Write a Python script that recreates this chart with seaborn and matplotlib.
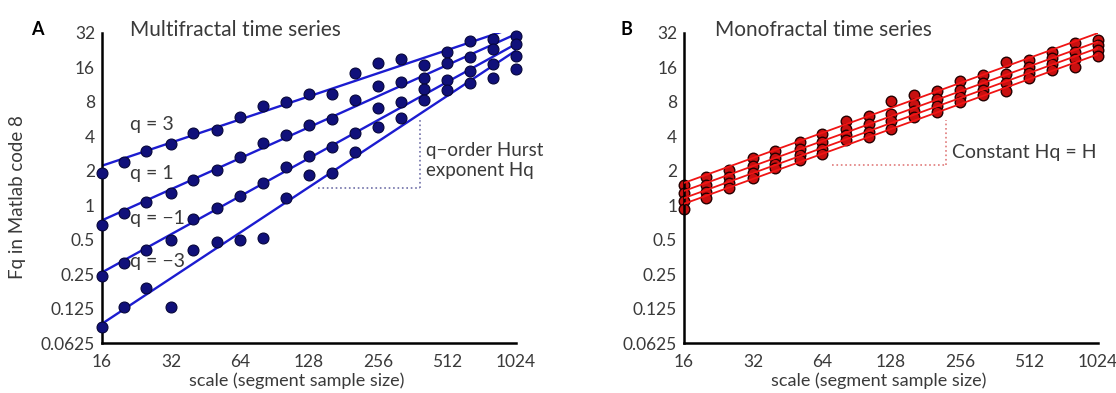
import numpy as np
import pandas as pd
import matplotlib
matplotlib.use("Agg")
import matplotlib.pyplot as plt
import seaborn as sns

# scales used in the MFDFA (segment sample sizes)
scales = [16, 20, 25, 32, 40, 51, 64, 81, 102, 128, 161, 203, 256, 323, 406, 512, 645, 813, 1024]
q_orders = [3, 1, -1, -3]

# Fq (multifractal)
multi_q3 = [1.9, 2.4, 3.0, 3.45, 4.3, 4.55, 5.9, 7.3, 8.0, 9.4, 9.3, 14.4, 17.6, 19.1, 16.9, 22.0, 27.0, 28.5, 30.0]
multi_q1 = [0.67, 0.86, 1.07, 1.29, 1.67, 2.04, 2.65, 3.5, 4.13, 5.05, 5.7, 8.35, 10.9, 12.0, 13.0, 17.6, 19.9, 23.0, 25.5]
multi_qm1 = [0.24, 0.31, 0.41, 0.50, 0.75, 0.95, 1.21, 1.57, 2.17, 2.7, 3.2, 4.3, 7.0, 8.0, 10.4, 12.5, 14.8, 17.3, 20.0]
multi_qm3 = [0.087, 0.13, 0.19, 0.13, 0.41, 0.48, 0.50, 0.52, 1.16, 1.84, 1.92, 2.93, 4.86, 5.8, 8.35, 10.2, 11.8, 13.0, 15.5]

# Fq (monofractal)
mono_q3 = [1.5, 1.75, 2.05, 2.6, 3.0, 3.55, 4.2, 5.4, 6.0, 8.2, 9.2, 10.0, 12.2, 13.8, 18.0, 18.6, 22.0, 26.0, 28.0]
mono_q1 = [1.28, 1.5, 1.78, 2.2, 2.6, 3.1, 3.6, 4.6, 5.1, 6.3, 7.6, 8.4, 10.2, 11.6, 14.0, 16.2, 19.2, 22.0, 25.0]
mono_qm1 = [1.08, 1.3, 1.56, 1.92, 2.3, 2.75, 3.1, 4.1, 4.4, 5.4, 6.6, 7.3, 8.9, 10.2, 11.8, 14.4, 17.0, 19.0, 22.5]
mono_qm3 = [0.92, 1.15, 1.4, 1.72, 2.1, 2.5, 2.78, 3.7, 3.95, 4.6, 5.9, 6.5, 7.9, 9.1, 10.0, 13.0, 15.3, 16.0, 20.2]

x_ticks = [16, 32, 64, 128, 256, 512, 1024]
x_ticklabels = ["16", "32", "64", "128", "256", "512", "1024"]
y_ticks = [0.0625, 0.125, 0.25, 0.5, 1, 2, 4, 8, 16, 32]
y_ticklabels = ["0.0625", "0.125", "0.25", "0.5", "1", "2", "4", "8", "16", "32"]


def to_long(series):
    rows = []
    for q, fq in zip(q_orders, series):
        for s, f in zip(scales, fq):
            rows.append({"scale": s, "Fq": f, "q": q})
    return pd.DataFrame(rows)


def fit_lines(df):
    rows = []
    for q, g in df.groupby("q"):
        coef = np.polyfit(np.log2(g["scale"]), np.log2(g["Fq"]), 1)
        for s in [scales[0], scales[-1]]:
            rows.append({"scale": s, "Fq": 2 ** np.polyval(coef, np.log2(s)), "q": q})
    return pd.DataFrame(rows)


df_multi = to_long([multi_q3, multi_q1, multi_qm1, multi_qm3])
df_mono = to_long([mono_q3, mono_q1, mono_qm1, mono_qm3])

sns.set_theme(style="white")
plt.rcParams["font.family"] = ["Lato", "DejaVu Sans"]
txt = "#3a3a3a"

fig = plt.figure(figsize=(11.16, 3.93), dpi=100)
axA = fig.add_axes([0.0914, 0.1272, 0.371, 0.789])
axB = fig.add_axes([0.613, 0.1272, 0.371, 0.789])

# panel A: dots over lines
sns.lineplot(data=fit_lines(df_multi), x="scale", y="Fq", units="q", estimator=None,
             color="#1c1cd0", lw=1.7, ax=axA, zorder=2)
sns.scatterplot(data=df_multi, x="scale", y="Fq", color="#10107a", edgecolor="#06063a",
                s=62, linewidth=0.8, ax=axA, zorder=3, clip_on=False, legend=False)

# panel B: lines over dots
sns.scatterplot(data=df_mono, x="scale", y="Fq", color="#c81010", edgecolor="#250000",
                s=58, linewidth=1.0, ax=axB, zorder=2, clip_on=False, legend=False)
sns.lineplot(data=fit_lines(df_mono), x="scale", y="Fq", units="q", estimator=None,
             color="#f01414", lw=1.3, ax=axB, zorder=3)

for ax in (axA, axB):
    ax.set_xscale("log", base=2)
    ax.set_yscale("log", base=2)
    ax.set_xlim(16, 1024)
    ax.set_ylim(0.0625, 32)
    ax.minorticks_off()
    ax.set_xticks(x_ticks)
    ax.set_xticklabels(x_ticklabels)
    ax.set_yticks(y_ticks)
    ax.set_yticklabels(y_ticklabels)
    ax.tick_params(direction="in", length=3, width=1.5, labelsize=12.5, colors="black",
                   labelcolor=txt)
    ax.tick_params(axis="x", pad=8)
    ax.tick_params(axis="y", pad=5)
    for side in ("top", "right"):
        ax.spines[side].set_visible(False)
    for side in ("left", "bottom"):
        ax.spines[side].set_linewidth(1.8)
        ax.spines[side].set_color("black")
    ax.set_xlabel("scale (segment sample size)", fontsize=13, color=txt)
    ax.xaxis.set_label_coords(0.47, -0.094)
    ax.set_ylabel("")

axA.set_ylabel("Fq in Matlab code 8", fontsize=13.5, color=txt)
axA.yaxis.set_label_coords(-0.184, 0.47)

axA.text(0.068, 1.01, "Multifractal time series", transform=axA.transAxes,
         fontsize=15, color=txt, ha="left", va="center")
axB.text(0.075, 1.01, "Monofractal time series", transform=axB.transAxes,
         fontsize=15, color=txt, ha="left", va="center")
fig.text(0.028, 0.924, "A", fontsize=13, weight="bold", color="black", va="center")
fig.text(0.556, 0.924, "B", fontsize=13, weight="bold", color="black", va="center")

# q labels in panel A
for label, yv in zip(["q = 3", "q = 1", "q = \u22121", "q = \u22123"], [5.06, 1.88, 0.76, 0.32]):
    axA.text(21.2, yv, label, fontsize=14, color=txt, ha="left", va="center")

# slope guides
axA.plot([140, 389], [1.42, 1.42], ls=":", color="#7070a8", lw=1.2)
axA.plot([389, 389], [1.42, 5.6], ls=":", color="#7070a8", lw=1.2)
axA.text(415, 2.45, "q\u2212order Hurst\nexponent Hq", fontsize=13.5, color=txt,
         ha="left", va="center", linespacing=1.2)

axB.plot([71, 223], [2.26, 2.26], ls=":", color="#e07a7a", lw=1.2)
axB.plot([223, 223], [2.26, 5.6], ls=":", color="#e07a7a", lw=1.2)
axB.text(236, 2.87, "Constant Hq = H", fontsize=14, color=txt, ha="left", va="center")

fig.savefig("out.png", dpi=100)
